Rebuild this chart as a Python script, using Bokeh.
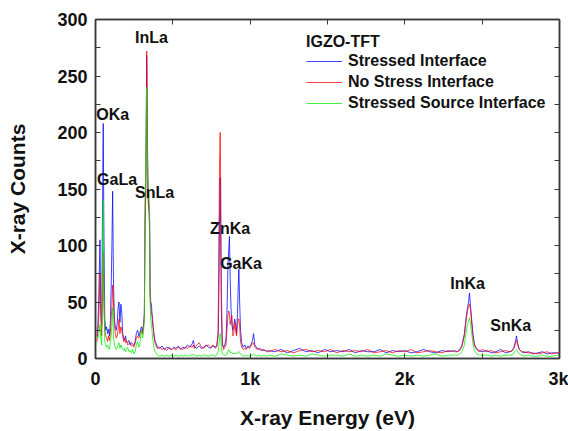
from bokeh.plotting import figure
from bokeh.models import FixedTicker, LinearAxis, Legend, LegendItem, Label, Range1d
from bokeh.embed import file_html
from bokeh.resources import INLINE

# ---------------- data ----------------
energy = [
    10, 16, 22, 29, 34, 40, 46, 50, 54, 60,
    66, 72, 78, 84, 90, 96, 101, 106, 111, 116,
    122, 128, 134, 140, 146, 152, 158, 164, 170, 176,
    182, 188, 194, 200, 208, 216, 224, 232, 240, 248,
    256, 264, 272, 280, 286, 292, 298, 304, 310, 316,
    320, 324, 328, 331, 334, 338, 342, 346, 350, 353,
    357, 362, 367, 372, 378, 384, 390, 396,
    400, 415, 430, 445, 460, 475, 490, 505, 520, 535,
    550, 565, 580, 595, 610, 625, 633, 640, 655, 670,
    685, 700, 715, 730, 745, 760, 775, 785, 793, 798,
    802, 806, 810, 814, 820, 828, 836, 844, 850, 856,
    861, 866, 871, 876, 882, 888, 894, 900, 906, 912,
    918, 923, 927, 932, 938, 945, 955, 965, 975, 985,
    995, 1005, 1015, 1022, 1030, 1045, 1060, 1075, 1090, 1105,
    1120, 1160, 1200, 1240, 1280, 1320, 1360, 1400, 1440, 1480,
    1520, 1560, 1600, 1640, 1680, 1720, 1760, 1800, 1840, 1880,
    1920, 1960, 2000, 2040, 2080, 2120, 2160, 2200, 2240, 2280, 2320,
    2340, 2355, 2370, 2385, 2395, 2405, 2412, 2418, 2424, 2430,
    2440, 2450, 2465, 2480, 2500,
    2530, 2560, 2590, 2620, 2650, 2680,
    2695, 2705, 2715, 2722, 2730, 2740, 2755,
    2770, 2800, 2830, 2860, 2890, 2920, 2950, 2980, 3000,
]

stressed = [
    20, 30, 60, 105, 45, 30, 145, 208, 120, 35,
    25, 28, 22, 26, 20, 32, 60, 100, 148, 70,
    35, 28, 25, 30, 45, 50, 32, 48, 40, 22,
    18, 16, 20, 15, 14, 16, 12, 14, 13, 12,
    15, 22, 25, 20, 22, 26, 28, 24, 30, 40,
    120, 150, 200, 268, 220, 163, 140, 135, 120, 60,
    50, 48, 35, 28, 22, 16, 14, 12,
    10, 9, 11, 8, 10, 9, 8, 10, 9, 11,
    8, 10, 9, 12, 10, 13, 16, 10, 9, 11,
    9, 10, 12, 10, 9, 11, 10, 12, 20, 60,
    120, 160, 100, 40, 12, 10, 12, 18, 40, 80,
    95, 108, 70, 45, 30, 25, 28, 35, 30, 22,
    40, 65, 79, 50, 25, 14, 10, 12, 9, 11,
    10, 12, 16, 22, 12, 9, 8, 7, 8, 6,
    7, 6, 8, 5, 7, 9, 6, 7, 5, 8,
    6, 7, 6, 8, 5, 7, 6, 6, 8, 5,
    7, 6, 7, 5, 6, 8, 6, 5, 7, 6, 7,
    6, 8, 12, 22, 35, 45, 50, 58, 48, 38,
    22, 12, 8, 7, 6,
    7, 5, 6, 8, 5, 6,
    7, 10, 15, 20, 13, 8, 6,
    5, 6, 4, 5, 6, 4, 5, 5, 4,
]

no_stress = [
    15, 25, 40, 75, 35, 20, 60, 95, 50, 25,
    20, 18, 15, 20, 16, 22, 35, 45, 65, 50,
    30, 22, 18, 20, 25, 35, 22, 28, 25, 20,
    15, 18, 14, 16, 12, 13, 14, 11, 12, 10,
    13, 18, 20, 18, 20, 24, 25, 22, 28, 35,
    110, 140, 190, 272, 230, 150, 135, 130, 110, 55,
    45, 40, 38, 30, 20, 14, 12, 10,
    9, 10, 8, 9, 7, 10, 8, 9, 8, 10,
    9, 8, 10, 9, 11, 10, 12, 9, 12, 14,
    10, 9, 11, 12, 10, 12, 9, 11, 25, 110,
    170, 200, 150, 60, 15, 8, 10, 12, 25, 38,
    42, 40, 30, 35, 38, 20, 22, 32, 25, 20,
    30, 35, 35, 28, 15, 10, 8, 9, 8, 10,
    9, 11, 13, 14, 10, 8, 9, 8, 7, 7,
    6, 8, 6, 7, 5, 7, 8, 6, 7, 6,
    8, 5, 7, 6, 7, 6, 8, 5, 6, 7,
    5, 7, 6, 8, 5, 6, 7, 6, 5, 7, 6,
    6, 7, 11, 20, 32, 42, 46, 48, 44, 35,
    20, 12, 9, 6, 8,
    6, 7, 5, 6, 7, 6,
    7, 9, 13, 16, 12, 8, 6,
    6, 5, 5, 4, 5, 6, 4, 5, 5,
]

stressed_source = [
    20, 18, 22, 30, 18, 12, 95, 140, 60, 15,
    12, 10, 12, 9, 8, 14, 20, 30, 45, 20,
    12, 10, 8, 10, 12, 14, 9, 12, 10, 8,
    7, 9, 6, 8, 10, 6, 7, 5, 8, 4,
    6, 12, 15, 10, 12, 20, 25, 18, 22, 35,
    140, 160, 210, 240, 200, 160, 150, 145, 130, 50,
    35, 30, 22, 15, 10, 6, 5, 4,
    3, 2, 3, 2, 3, 2, 3, 2, 3, 2,
    3, 2, 3, 2, 3, 3, 4, 3, 2, 3,
    2, 3, 3, 2, 3, 3, 2, 4, 6, 12,
    18, 22, 20, 10, 4, 3, 3, 3, 4, 6,
    8, 7, 5, 6, 5, 4, 5, 4, 5, 4,
    5, 6, 6, 5, 4, 3, 2, 3, 2, 3,
    2, 3, 3, 4, 3, 2, 3, 2, 3, 2,
    3, 2, 4, 3, 2, 3, 2, 4, 3, 2,
    3, 3, 2, 4, 2, 3, 2, 3, 2, 4,
    3, 2, 3, 2, 3, 2, 3, 4, 2, 3, 3,
    3, 4, 6, 12, 22, 30, 33, 36, 32, 25,
    14, 7, 4, 3, 3,
    3, 2, 3, 2, 3, 3,
    3, 5, 7, 8, 6, 4, 3,
    2, 3, 2, 2, 3, 2, 2, 3, 2,
]

series_names = ["Stressed Interface", "No Stress Interface", "Stressed Source Interface"]
legend_title = "IGZO-TFT"

peak_names = ["OKa", "InLa", "GaLa", "SnLa", "ZnKa", "GaKa", "InKa", "SnKa"]
peak_label_x = [5, 256, 10, 256, 741, 806, 2294, 2553]
peak_label_y = [216, 284, 158, 147, 115, 84, 66, 29]

x_ticks = [0, 1000, 2000, 3000]
x_tick_labels = ["0", "1k", "2k", "3k"]
y_ticks = [0, 50, 100, 150, 200, 250, 300]

assert len(energy) == len(stressed) == len(no_stress) == len(stressed_source)

# ---------------- figure ----------------
FONT = "Liberation Sans"
AXC = "#3a3a3a"

p = figure(width=568, height=431, output_backend="svg", toolbar_location=None,
           x_range=Range1d(0, 3000), y_range=Range1d(0, 300),
           min_border_left=95, min_border_right=9, min_border_top=19,
           min_border_bottom=70, x_axis_label="X-ray Energy (eV)",
           y_axis_label="X-ray Counts")
p.grid.visible = False
p.outline_line_color = AXC
p.outline_line_width = 1.5
p.background_fill_color = "white"
p.border_fill_color = "white"

colors = ["#0000ff", "#ff0000", "#00ee00"]
ys = [stressed, no_stress, stressed_source]
renderers = []
for c, y in zip(colors, ys):
    renderers.append(p.line(energy, y, line_color=c, line_width=1, line_alpha=0.75))

items = [LegendItem(label=name, renderers=[r]) for name, r in zip(series_names, renderers)]

legend = Legend(items=items, title=legend_title, location=(211, 245))
legend.border_line_color = None
legend.background_fill_alpha = 0
legend.padding = 0
legend.margin = 0
legend.spacing = 1
legend.glyph_width = 36
legend.glyph_height = 20
legend.label_height = 20
legend.label_standoff = 6
legend.label_text_font = FONT
legend.label_text_font_style = "bold"
legend.label_text_font_size = "16px"
legend.label_text_color = "#111111"
legend.title_text_font = FONT
legend.title_text_font_style = "bold"
legend.title_text_font_size = "16px"
legend.title_text_color = "#111111"
legend.title_standoff = 0
p.add_layout(legend)

for name, lx, ly in zip(peak_names, peak_label_x, peak_label_y):
    p.add_layout(Label(x=lx, y=ly, text=name, text_font=FONT,
                       text_font_style="bold", text_font_size="16px",
                       text_baseline="middle", text_color="#111111"))

# axes styling
xt = FixedTicker(ticks=x_ticks, minor_ticks=[500, 1500, 2500])
yt = FixedTicker(ticks=y_ticks, minor_ticks=[25, 75, 125, 175, 225, 275])

for ax in p.xaxis:
    ax.ticker = xt
    ax.major_label_overrides = {t: s for t, s in zip(x_ticks, x_tick_labels)}
for ax in p.yaxis:
    ax.ticker = yt

for ax in list(p.xaxis) + list(p.yaxis):
    ax.axis_line_color = AXC
    ax.axis_line_width = 1.5
    ax.major_tick_line_color = AXC
    ax.minor_tick_line_color = AXC
    ax.major_tick_in = 5
    ax.major_tick_out = 0
    ax.minor_tick_in = 5
    ax.minor_tick_out = 0
    ax.major_label_text_font = FONT
    ax.major_label_text_font_style = "bold"
    ax.major_label_text_font_size = "18px"
    ax.major_label_text_color = "#111111"
    ax.axis_label_text_font = FONT
    ax.axis_label_text_font_style = "bold"
    ax.axis_label_text_font_size = "21px"
    ax.axis_label_text_color = "#111111"

p.yaxis.major_label_standoff = 8
p.yaxis.axis_label_standoff = 25
p.xaxis.major_label_standoff = 10
p.xaxis.axis_label_standoff = 14

# tick-only axes on top and right (no labels)
for loc, tick, tv in (("above", xt, x_ticks), ("right", yt, y_ticks)):
    a = LinearAxis(ticker=tick)
    a.major_label_overrides = {t: "" for t in tv}
    a.axis_line_color = AXC
    a.axis_line_width = 1.5
    a.major_tick_line_color = AXC
    a.minor_tick_line_color = AXC
    a.major_tick_in = 5
    a.major_tick_out = 0
    a.minor_tick_in = 5
    a.minor_tick_out = 0
    a.major_label_standoff = 0
    p.add_layout(a, loc)

open("out.html", "w").write(file_html(p, INLINE))
